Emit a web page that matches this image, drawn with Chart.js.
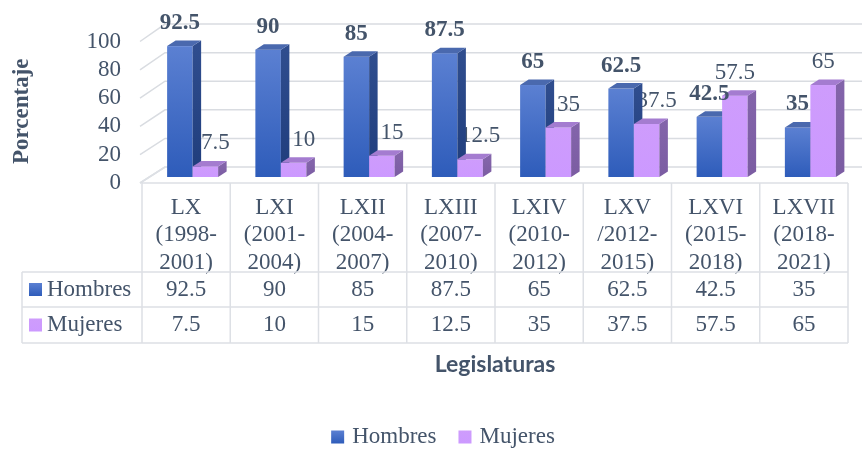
<!DOCTYPE html>
<html>
<head>
<meta charset="utf-8">
<script src="https://cdn.jsdelivr.net/npm/chart.js@4.4.1/dist/chart.umd.min.js"></script>
<style>
  html, body { margin: 0; padding: 0; background: #fff; }
</style>
</head>
<body>
<canvas id="c" width="862" height="449"></canvas>
<script>
// Legislaturas (etiquetas del eje X, en varias líneas)
const legislaturas = [
  ['LX', '(1998-', '2001)'],
  ['LXI', '(2001-', '2004)'],
  ['LXII', '(2004-', '2007)'],
  ['LXIII', '(2007-', '2010)'],
  ['LXIV', '(2010-', '2012)'],
  ['LXV', '/2012-', '2015)'],
  ['LXVI', '(2015-', '2018)'],
  ['LXVII', '(2018-', '2021)'],
];
const series = ['Hombres', 'Mujeres'];
const hombres = [92.5, 90, 85, 87.5, 65, 62.5, 42.5, 35];
const mujeres = [7.5, 10, 15, 12.5, 35, 37.5, 57.5, 65];

const TXT = '#44546A';
const SERIF = "'Liberation Serif', 'Times New Roman', serif";
const DX = 8.5, DY = -5.5;   // profundidad de las barras 3D
const SHIFT = 6.5;           // desplazamiento de perspectiva
const GRID = '#D9DCE1';
const LINE = '#DDE0E5';

const estilos = [
  { front: ['#5B80D2', '#2E5CBA'], side: ['#2F4D8E', '#1F3D7C'], top: '#4A69AE' },
  { front: ['#CE9CFC', '#CC99FF'], side: ['#8364AA', '#7B5CA2'], top: '#A47CD0' },
];

function legendFill(ctx, k, t, b) {
  const g = ctx.createLinearGradient(0, t, 0, b);
  g.addColorStop(0, estilos[k].front[0]);
  g.addColorStop(1, estilos[k].front[1]);
  return g;
}

// Barra en 3D: cara frontal, lateral y superior
function drawBar(ctx, el, st) {
  const l = el.x - el.width / 2 + SHIFT;
  const r = el.x + el.width / 2 + SHIFT;
  const t = el.y, b = el.base;
  const g = ctx.createLinearGradient(0, t, 0, b);
  g.addColorStop(0, st.front[0]);
  g.addColorStop(1, st.front[1]);
  ctx.fillStyle = g;
  ctx.fillRect(l, t, r - l, b - t);

  const gs = ctx.createLinearGradient(0, t, 0, b);
  gs.addColorStop(0, st.side[0]);
  gs.addColorStop(1, st.side[1]);
  ctx.fillStyle = gs;
  ctx.beginPath();
  ctx.moveTo(r, t); ctx.lineTo(r + DX, t + DY); ctx.lineTo(r + DX, b + DY); ctx.lineTo(r, b);
  ctx.closePath(); ctx.fill();

  ctx.fillStyle = st.top;
  ctx.beginPath();
  ctx.moveTo(l, t); ctx.lineTo(l + DX, t + DY); ctx.lineTo(r + DX, t + DY); ctx.lineTo(r, t);
  ctx.closePath(); ctx.fill();
}

const barras3d = {
  id: 'barras3d',
  beforeDatasetsDraw(chart) {
    const { ctx, scales: { x, y } } = chart;
    const base = y.getPixelForValue(0);
    ctx.save();

    // pared del fondo: cuadrícula en perspectiva
    ctx.strokeStyle = GRID;
    ctx.lineWidth = 1.5;
    const x0 = x.left - 2, xb = x0 + 25;
    y.ticks.forEach((t) => {
      const py = y.getPixelForValue(t.value);
      const front = py + 6;
      const back = py - 10 - (base - py) * 0.01;
      ctx.beginPath();
      ctx.moveTo(x0, front);
      ctx.lineTo(xb, back);
      ctx.lineTo(x.right + 30, back);
      ctx.stroke();
    });

    const m0 = chart.getDatasetMeta(0), m1 = chart.getDatasetMeta(1);

    // etiquetas de Mujeres (en parte tapadas por las barras azules, como en el original)
    ctx.fillStyle = TXT;
    ctx.textAlign = 'center';
    ctx.textBaseline = 'middle';
    ctx.font = '23px ' + SERIF;
    m1.data.forEach((el, i) => {
      const off = mujeres[i] < hombres[i] ? 10 : 0;
      ctx.fillText(String(mujeres[i]), el.x + SHIFT + off, el.y - 23);
    });

    for (let i = 0; i < legislaturas.length; i++) {
      drawBar(ctx, m0.data[i], estilos[0]);
      drawBar(ctx, m1.data[i], estilos[1]);
    }

    // etiquetas de Hombres en negrita
    ctx.fillStyle = TXT;
    ctx.font = 'bold 23px ' + SERIF;
    m0.data.forEach((el, i) => {
      ctx.fillText(String(hombres[i]), el.x + SHIFT, el.y - 23);
    });

    ctx.restore();
    return false; // barras ya dibujadas
  },
  afterDraw(chart) {
    const { ctx, scales: { x, y } } = chart;
    const top = y.getPixelForValue(0) + 6;   // borde frontal del suelo
    const r1 = top + 89, r2 = r1 + 35, r3 = r2 + 36;
    const keyLeft = 22;
    const half = (x.getPixelForValue(1) - x.getPixelForValue(0)) / 2;

    ctx.save();

    // título del eje Y
    ctx.fillStyle = TXT;
    ctx.font = 'bold 23px ' + SERIF;
    ctx.textAlign = 'center';
    ctx.textBaseline = 'middle';
    ctx.translate(22, (y.top + y.bottom) / 2 + 5);
    ctx.rotate(-Math.PI / 2);
    ctx.fillText('Porcentaje', 0, 0);
    ctx.setTransform(1, 0, 0, 1, 0, 0);

    // tabla de datos
    ctx.strokeStyle = LINE;
    ctx.lineWidth = 1.5;
    ctx.beginPath();
    ctx.moveTo(x.left - 2, top); ctx.lineTo(x.left + 23, top - 16);
    ctx.moveTo(x.left, top); ctx.lineTo(x.right, top);
    [r1, r2, r3].forEach((ry) => { ctx.moveTo(keyLeft, ry); ctx.lineTo(x.right, ry); });
    ctx.moveTo(keyLeft, r1); ctx.lineTo(keyLeft, r3);
    for (let i = 0; i <= legislaturas.length; i++) {
      const px = i < legislaturas.length ? x.getPixelForValue(i) - half : x.getPixelForValue(i - 1) + half;
      ctx.moveTo(px, top); ctx.lineTo(px, r3);
    }
    ctx.stroke();

    ctx.fillStyle = TXT;
    ctx.font = '23px ' + SERIF;
    legislaturas.forEach((_, i) => {
      const px = x.getPixelForValue(i);
      ctx.fillText(String(hombres[i]), px, (r1 + r2) / 2);
      ctx.fillText(String(mujeres[i]), px, (r2 + r3) / 2);
    });

    ctx.textAlign = 'left';
    [(r1 + r2) / 2, (r2 + r3) / 2].forEach((cy, k) => {
      ctx.fillStyle = legendFill(ctx, k, cy - 6.5, cy + 6.5);
      ctx.fillRect(29, cy - 6.5, 13, 13);
      ctx.fillStyle = TXT;
      ctx.fillText(series[k], 47, cy);
    });

    // leyenda inferior
    const ly = 437, cx = 443;
    const w0 = ctx.measureText(series[0]).width, w1 = ctx.measureText(series[1]).width;
    const total = 13 + 8 + w0 + 22 + 13 + 8 + w1;
    let lx = cx - total / 2;
    [w0, w1].forEach((w, k) => {
      ctx.fillStyle = legendFill(ctx, k, ly - 6.5, ly + 6.5);
      ctx.fillRect(lx, ly - 6.5, 13, 13);
      ctx.fillStyle = TXT;
      ctx.fillText(series[k], lx + 21, ly);
      lx += 21 + w + 22;
    });
    ctx.restore();
  },
};

new Chart(document.getElementById('c'), {
  type: 'bar',
  data: {
    labels: legislaturas,
    datasets: [
      { label: series[0], data: hombres, backgroundColor: '#3F6BC9', categoryPercentage: 0.578, barPercentage: 1 },
      { label: series[1], data: mujeres, backgroundColor: '#CC99FF', categoryPercentage: 0.578, barPercentage: 1 },
    ],
  },
  options: {
    responsive: false,
    animation: false,
    layout: { padding: { top: 35.5, left: 0, right: 14, bottom: 0 } },
    plugins: {
      legend: { display: false },
      tooltip: { enabled: false },
    },
    scales: {
      x: {
        grid: { display: false, drawTicks: false },
        border: { display: false },
        ticks: {
          color: TXT,
          font: { family: SERIF, size: 23 },
          padding: 17,
          maxRotation: 0,
          autoSkip: false,
        },
        title: {
          display: true,
          text: 'Legislaturas',
          color: TXT,
          font: { family: 'Lato', size: 23, weight: 'bold' },
          padding: { top: 0, bottom: 71 },
        },
        afterFit(scale) {
          scale.height = 272;
          scale.paddingLeft = 0;
          scale.paddingRight = 0;
        },
      },
      y: {
        min: 0,
        max: 100,
        grid: { display: false, drawTicks: false },
        border: { display: false },
        ticks: {
          stepSize: 20,
          autoSkip: false,
          color: TXT,
          font: { family: SERIF, size: 23 },
          padding: 21,
          labelOffset: 6,
        },
        afterFit(scale) {
          scale.width = 142;
          scale.paddingTop = 0;
          scale.paddingBottom = 0;
        },
      },
    },
  },
  plugins: [barras3d],
});
</script>
</body>
</html>
